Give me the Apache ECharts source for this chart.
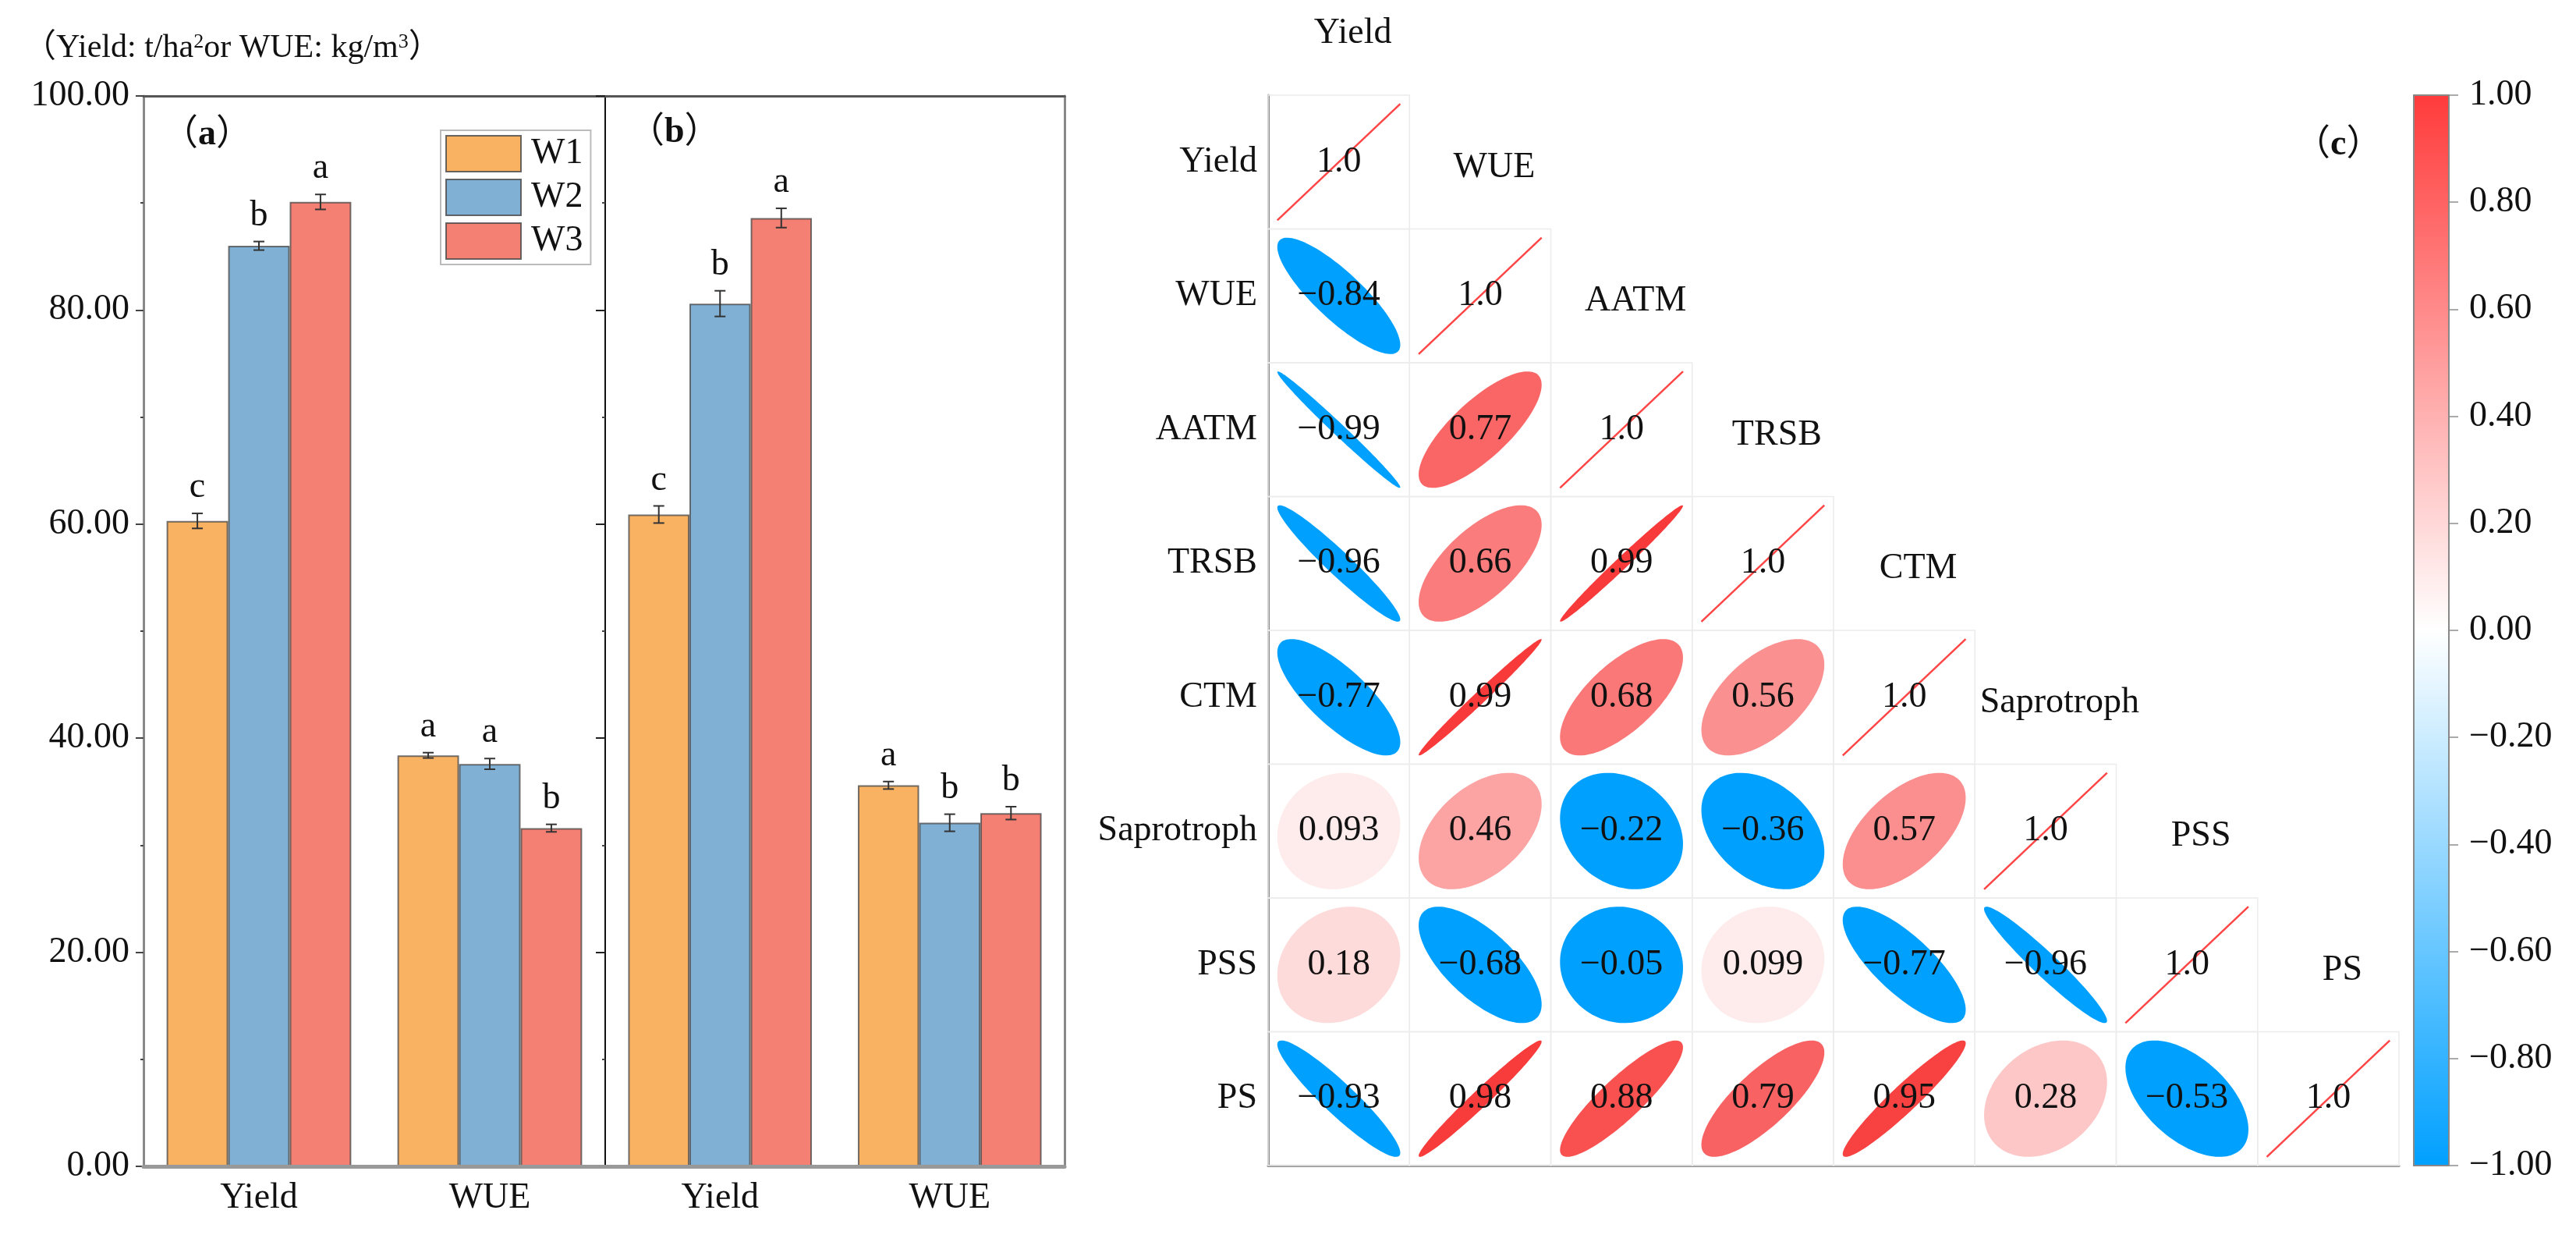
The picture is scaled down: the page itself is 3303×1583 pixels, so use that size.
<!DOCTYPE html>
<html><head><meta charset="utf-8">
<script src="https://cdn.jsdelivr.net/npm/echarts@6/dist/echarts.min.js"></script>
<style>html,body{margin:0;padding:0;background:#fff}#c{width:3303px;height:1583px}</style>
</head><body><div id="c"></div>
<script>
// ---------- data: bar panels ----------
const categories = ['Yield', 'WUE'];
const treatments = ['W1', 'W2', 'W3'];
// panel (a)
const aW1 = [60.3, 38.4];
const aW2 = [86.0, 37.6];
const aW3 = [90.1, 31.6];
const aW1Err = [0.7, 0.25];
const aW2Err = [0.4, 0.5];
const aW3Err = [0.7, 0.35];
const aW1Sig = ['c', 'a'];
const aW2Sig = ['b', 'a'];
const aW3Sig = ['a', 'b'];
// panel (b)
const bW1 = [60.9, 35.6];
const bW2 = [80.6, 32.1];
const bW3 = [88.6, 33.0];
const bW1Err = [0.8, 0.35];
const bW2Err = [1.2, 0.8];
const bW3Err = [0.9, 0.6];
const bW1Sig = ['c', 'a'];
const bW2Sig = ['b', 'b'];
const bW3Sig = ['a', 'b'];
const barYMin = 0, barYMax = 100, barYInterval = 20;

// ---------- data: correlation matrix (lower triangle) ----------
const vars = ['Yield', 'WUE', 'AATM', 'TRSB', 'CTM', 'Saprotroph', 'PSS', 'PS'];
const rYield = [1];
const rWUE = [-0.84, 1];
const rAATM = [-0.99, 0.77, 1];
const rTRSB = [-0.96, 0.66, 0.99, 1];
const rCTM = [-0.77, 0.99, 0.68, 0.56, 1];
const rSaprotroph = [0.093, 0.46, -0.22, -0.36, 0.57, 1];
const rPSS = [0.18, -0.68, -0.05, 0.099, -0.77, -0.96, 1];
const rPS = [-0.93, 0.98, 0.88, 0.79, 0.95, 0.28, -0.53, 1];
const cbMin = -1, cbMax = 1, cbInterval = 0.2;

// ---------- styling ----------
const FONT = '"Liberation Serif","Times New Roman","Noto Sans CJK SC",serif';
const barColors = ['#F9B262', '#80B0D3', '#F47F73'];
const RED = [248, 56, 56];
const BLUE = '#00A0FF';

const chart = echarts.init(document.getElementById('c'), null, {renderer: 'canvas'});

function barPanelSeries(means, errs, sigs, xIdx, yIdx) {
  const out = [];
  means.forEach((m, w) => {
    out.push({
      type: 'bar', name: treatments[w], xAxisIndex: xIdx, yAxisIndex: yIdx,
      data: m, barGap: '0%', barCategoryGap: '20%',
      itemStyle: {color: barColors[w], borderColor: 'rgba(70,70,70,0.75)', borderWidth: 2},
      z: 2
    });
  });
  const edata = [];
  means.forEach((m, w) => m.forEach((v, c) => edata.push([c, w, v, errs[w][c]])));
  const letters = [];
  means.forEach((m, w) => m.forEach((v, c) => letters.push(sigs[w][c])));
  out.push({
    type: 'custom', xAxisIndex: xIdx, yAxisIndex: yIdx, z: 4,
    encode: {x: 0, y: 2},
    data: edata,
    renderItem: function (params, api) {
      const c = api.value(0), w = api.value(1), v = api.value(2), e = api.value(3);
      const bw = api.size([1, 0])[0];
      const barW = bw * 0.8 / 3;
      const base = api.coord([c, v]);
      const x = base[0] + (w - 1) * barW;
      const yT = api.coord([c, v + e])[1];
      const yB = api.coord([c, v - e])[1];
      const cap = 7;
      const ls = {stroke: '#333', lineWidth: 2};
      return {type: 'group', children: [
        {type: 'line', shape: {x1: x, y1: yT, x2: x, y2: yB}, style: ls},
        {type: 'line', shape: {x1: x - cap, y1: yT, x2: x + cap, y2: yT}, style: ls},
        {type: 'line', shape: {x1: x - cap, y1: yB, x2: x + cap, y2: yB}, style: ls},
        {type: 'text', style: {text: letters[params.dataIndex], x: x, y: yT - 10,
          align: 'center', verticalAlign: 'bottom', fontSize: 46, fontFamily: FONT, fill: '#111'}}
      ]};
    }
  });
  return out;
}

// correlation data
const corrRows = [rYield, rWUE, rAATM, rTRSB, rCTM, rSaprotroph, rPSS, rPS];
const corrData = [];
corrRows.forEach((row, i) => row.forEach((v, j) => corrData.push([j, i, v])));

function corrColor(v) {
  if (v < 0) return BLUE;
  const t = Math.min(1, v);
  const r = Math.round(255 + (RED[0] - 255) * t);
  const g = Math.round(255 + (RED[1] - 255) * t);
  const b = Math.round(255 + (RED[2] - 255) * t);
  return 'rgb(' + r + ',' + g + ',' + b + ')';
}
function fmtCorr(v) {
  if (v === 1) return '1.0';
  return (v < 0 ? '\u2212' : '') + String(Math.abs(v));
}

const yAxisBase = {
  type: 'value', min: barYMin, max: barYMax, interval: barYInterval,
  splitLine: {show: false}
};

const option = {
  backgroundColor: '#fff',
  animation: false,
  textStyle: {fontFamily: FONT},
  grid: [
    {left: 184, top: 123, width: 592, height: 1372},
    {left: 776, top: 123, width: 589, height: 1372},
    {left: 1626, top: 122, width: 1450, height: 1372},
    {left: 3095, top: 122, width: 45, height: 1372}
  ],
  legend: {
    data: treatments, orient: 'vertical', left: 565, top: 167,
    itemWidth: 96, itemHeight: 46, itemGap: 8, padding: [6, 10, 6, 6],
    borderColor: '#bbb', borderWidth: 2, icon: 'rect',
    textStyle: {fontSize: 46, fontFamily: FONT, color: '#111', padding: [0, 0, 0, 8]},
    itemStyle: {borderColor: 'rgba(70,70,70,0.8)', borderWidth: 2}
  },
  xAxis: [
    // panel a
    {gridIndex: 0, type: 'category', data: categories, position: 'bottom', z: 5,
      axisLine: {onZero: false, lineStyle: {color: '#999', width: 5}},
      axisTick: {alignWithLabel: true, length: 10, lineStyle: {color: '#555', width: 2}},
      axisLabel: {fontSize: 46, fontFamily: FONT, color: '#111', margin: 18}},
    {gridIndex: 0, type: 'category', data: categories, position: 'bottom',
      axisLine: {show: false}, axisTick: {length: 4, lineStyle: {color: '#555', width: 2}},
      axisLabel: {show: false}},
    {gridIndex: 0, type: 'category', data: categories, position: 'top',
      axisLine: {onZero: false, lineStyle: {color: '#555', width: 3}},
      axisTick: {show: false}, axisLabel: {show: false}},
    // panel b
    {gridIndex: 1, type: 'category', data: categories, position: 'bottom', z: 5,
      axisLine: {onZero: false, lineStyle: {color: '#999', width: 5}},
      axisTick: {alignWithLabel: true, length: 10, lineStyle: {color: '#555', width: 2}},
      axisLabel: {fontSize: 46, fontFamily: FONT, color: '#111', margin: 18}},
    {gridIndex: 1, type: 'category', data: categories, position: 'bottom',
      axisLine: {show: false}, axisTick: {length: 4, lineStyle: {color: '#555', width: 2}},
      axisLabel: {show: false}},
    {gridIndex: 1, type: 'category', data: categories, position: 'top',
      axisLine: {onZero: false, lineStyle: {color: '#555', width: 3}},
      axisTick: {show: false}, axisLabel: {show: false}},
    // matrix
    {gridIndex: 2, type: 'category', data: vars, position: 'bottom',
      axisLine: {onZero: false, lineStyle: {color: '#888', width: 3}},
      axisTick: {show: false}, axisLabel: {show: false}, splitLine: {show: false}},
    // colorbar
    {gridIndex: 3, type: 'category', data: ['c'], show: false}
  ],
  yAxis: [
    Object.assign({}, yAxisBase, {gridIndex: 0, position: 'left',
      axisLine: {show: true, onZero: false, lineStyle: {color: '#888', width: 3}},
      axisTick: {show: true, length: 10, lineStyle: {color: '#444', width: 2}},
      minorTick: {show: true, splitNumber: 2, length: 4, lineStyle: {color: '#444', width: 2}},
      axisLabel: {fontSize: 46, fontFamily: FONT, color: '#111', margin: 18,
        formatter: v => v.toFixed(2)}}),
    Object.assign({}, yAxisBase, {gridIndex: 1, position: 'left',
      axisLine: {show: true, onZero: false, lineStyle: {color: '#111', width: 2}},
      axisTick: {show: true, length: 12, lineStyle: {color: '#222', width: 2}},
      minorTick: {show: true, splitNumber: 2, length: 4, lineStyle: {color: '#444', width: 2}},
      axisLabel: {show: false}}),
    Object.assign({}, yAxisBase, {gridIndex: 1, position: 'right',
      axisLine: {show: true, onZero: false, lineStyle: {color: '#888', width: 3}},
      axisTick: {show: false}, axisLabel: {show: false}}),
    {gridIndex: 2, type: 'category', data: vars, inverse: true, position: 'left',
      axisLine: {onZero: false, lineStyle: {color: '#888', width: 3}},
      axisTick: {show: false}, splitLine: {show: false},
      axisLabel: {fontSize: 46, fontFamily: FONT, color: '#111', margin: 14}},
    {gridIndex: 3, type: 'value', min: cbMin, max: cbMax, interval: cbInterval, position: 'right',
      axisLine: {show: false}, splitLine: {show: false},
      axisTick: {show: true, length: 12, lineStyle: {color: '#aaa', width: 2}},
      axisLabel: {fontSize: 46, fontFamily: FONT, color: '#111', margin: 26,
        formatter: v => Math.abs(v) < 1e-9 ? '0.00' : (v < 0 ? '\u2212' : '') + Math.abs(v).toFixed(2)}}
  ],
  graphic: [
    {type: 'text', x: 30, y: 62, style: {
      text: '（Yield: t/ha{s|2}or WUE: kg/m{s|3}）', fontSize: 42, fontFamily: FONT, fill: '#111',
      align: 'left', verticalAlign: 'middle',
      rich: {s: {fontSize: 26, fontFamily: FONT, fill: '#111', verticalAlign: 'top', padding: [0, 0, 14, 0]}}}},
    {type: 'text', x: 208, y: 173, style: {
      text: '（{b|a}）', fontSize: 46, fontFamily: FONT, fill: '#111', align: 'left', verticalAlign: 'middle',
      rich: {b: {fontSize: 46, fontWeight: 'bold', fontFamily: FONT, fill: '#111'}}}},
    {type: 'text', x: 806, y: 170, style: {
      text: '（{b|b}）', fontSize: 46, fontFamily: FONT, fill: '#111', align: 'left', verticalAlign: 'middle',
      rich: {b: {fontSize: 46, fontWeight: 'bold', fontFamily: FONT, fill: '#111'}}}},
    {type: 'text', x: 2942, y: 186, style: {
      text: '（{b|c}）', fontSize: 46, fontFamily: FONT, fill: '#111', align: 'left', verticalAlign: 'middle',
      rich: {b: {fontSize: 46, fontWeight: 'bold', fontFamily: FONT, fill: '#111'}}}}
  ],
  series: [].concat(
    barPanelSeries([aW1, aW2, aW3], [aW1Err, aW2Err, aW3Err], [aW1Sig, aW2Sig, aW3Sig], 0, 0),
    barPanelSeries([bW1, bW2, bW3], [bW1Err, bW2Err, bW3Err], [bW1Sig, bW2Sig, bW3Sig], 3, 1),
    [
      {
        type: 'custom', xAxisIndex: 6, yAxisIndex: 3, data: corrData, z: 3,
        renderItem: function (params, api) {
          const col = api.value(0), row = api.value(1), r = api.value(2);
          const p = api.coord([col, row]);
          const s = api.size([1, 1]);
          const hw = s[0] / 2, hh = s[1] / 2, k = 0.87;
          const children = [{type: 'rect', shape: {x: p[0] - hw, y: p[1] - hh, width: s[0], height: s[1]},
            style: {fill: null, stroke: '#ececec', lineWidth: 1.5}}];
          const d = Math.acos(Math.max(-1, Math.min(1, r)));
          const pts = [];
          const N = 120;
          for (let n = 0; n <= N; n++) {
            const t = n / N * Math.PI * 2;
            pts.push([p[0] + Math.cos(t + d / 2) * hw * k, p[1] - Math.cos(t - d / 2) * hh * k]);
          }
          if (Math.abs(r) >= 0.9999) {
            children.push({type: 'line', shape: {x1: p[0] - hw * k, y1: p[1] + hh * k, x2: p[0] + hw * k, y2: p[1] - hh * k},
              style: {stroke: '#FF4545', lineWidth: 2.5}});
          } else {
            children.push({type: 'polygon', shape: {points: pts}, style: {fill: corrColor(r)}});
          }
          children.push({type: 'text', style: {text: fmtCorr(r), x: p[0], y: p[1], align: 'center', verticalAlign: 'middle',
            fontSize: 46, fontFamily: FONT, fill: '#111'}});
          return {type: 'group', children: children};
        }
      },
      {
        type: 'custom', xAxisIndex: 6, yAxisIndex: 3, z: 3,
        data: vars.map((v, i) => [i, i]),
        renderItem: function (params, api) {
          const i = api.value(0);
          const p = api.coord([i, i]);
          const s = api.size([1, 1]);
          return {type: 'text', style: {text: vars[params.dataIndex], x: p[0] + 18, y: p[1] - s[1] + 7,
            align: 'center', verticalAlign: 'middle', fontSize: 46, fontFamily: FONT, fill: '#111'}};
        }
      },
      {
        type: 'custom', xAxisIndex: 7, yAxisIndex: 4, z: 3,
        data: [[0, cbMax, cbMin]],
        renderItem: function (params, api) {
          const top = api.coord([0, api.value(1)]);
          const bot = api.coord([0, api.value(2)]);
          const w = api.size([1, 0])[0];
          return {type: 'rect', shape: {x: top[0] - w / 2, y: top[1], width: w, height: bot[1] - top[1]},
            style: {stroke: '#888', lineWidth: 2,
              fill: new echarts.graphic.LinearGradient(0, 0, 0, 1, [
                {offset: 0, color: '#FF3B3B'},
                {offset: 0.5, color: '#FFFFFF'},
                {offset: 1, color: '#00A0FF'}
              ])}};
        }
      }
    ]
  )
};
chart.setOption(option);
</script></body></html>
